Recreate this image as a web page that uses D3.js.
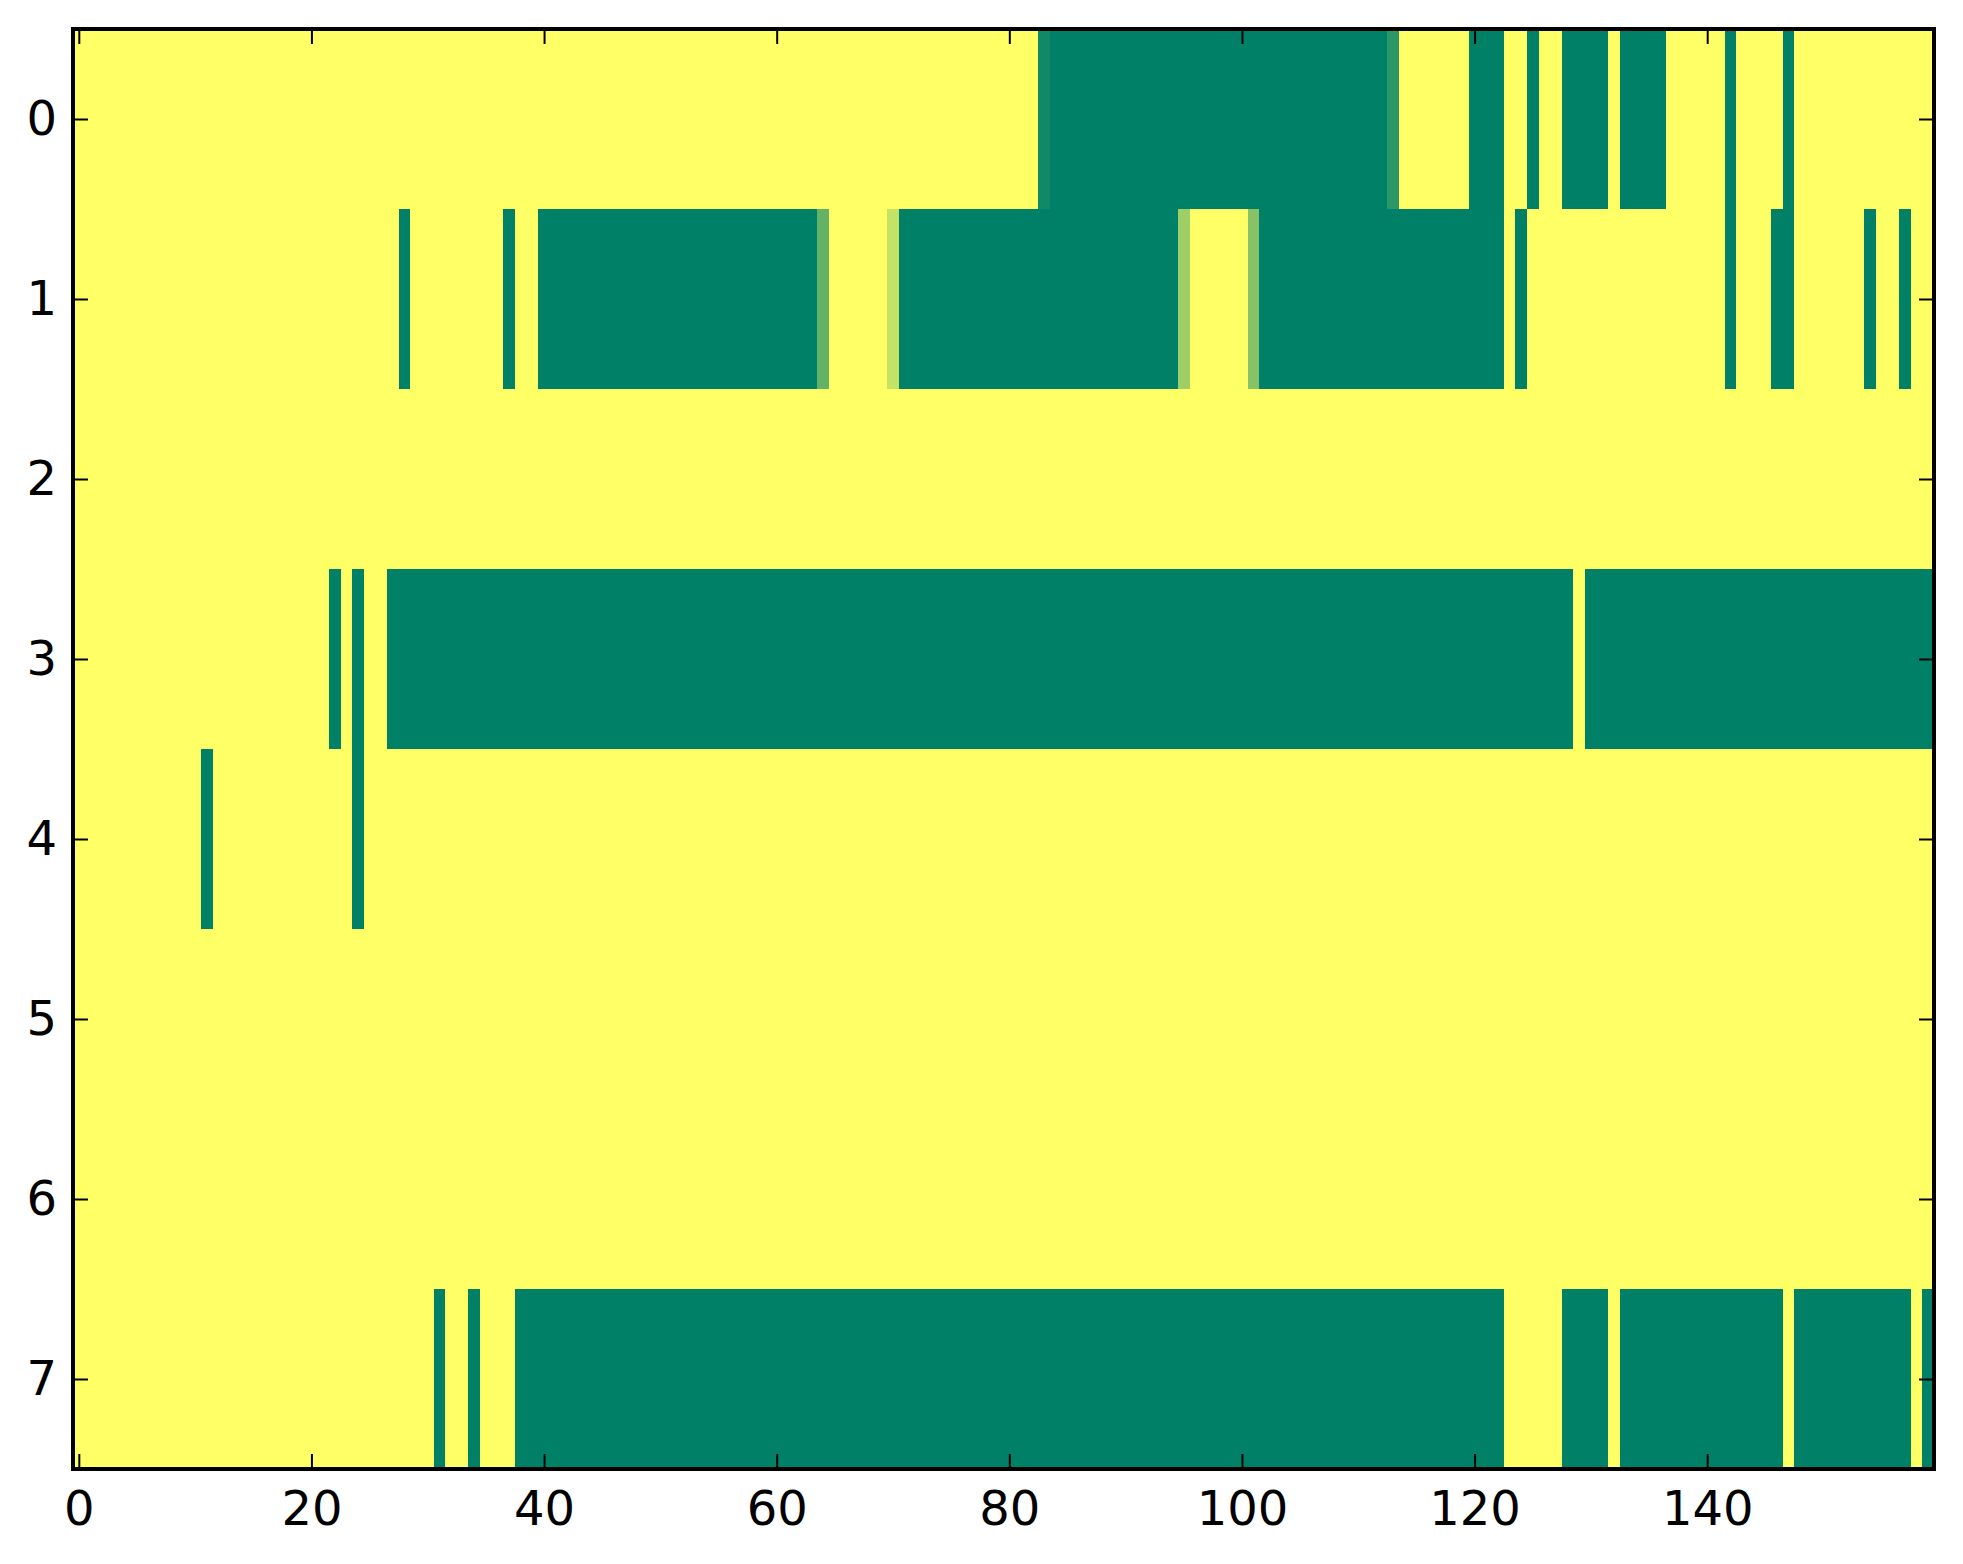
<!DOCTYPE html>
<html>
<head>
<meta charset="utf-8">
<script src="https://cdn.jsdelivr.net/npm/d3@7"></script>
<style>
    body { margin: 0; background: #ffffff; }
    text { font-family: "DejaVu Sans", sans-serif; }
</style>
</head>
<body>
<script>
//cell values per row, 0 = yellow, 1 = dark green (160 columns each)
var row0 = [
    0,0,0,0,0,0,0,0,0,0,0,0,0,0,0,0,0,0,0,0,
    0,0,0,0,0,0,0,0,0,0,0,0,0,0,0,0,0,0,0,0,
    0,0,0,0,0,0,0,0,0,0,0,0,0,0,0,0,0,0,0,0,
    0,0,0,0,0,0,0,0,0,0,0,0,0,0,0,0,0,0,0,0,
    0,0,0,0.93,1,1,1,1,1,1,1,1,1,1,1,1,1,1,1,1,
    1,1,1,1,1,1,1,1,1,1,1,1,1,0.83,0,0,0,0,0,0,
    1,1,1,0,0,1,0,0,1,1,1,1,0,1,1,1,1,0,0,0,
    0,0,1,0,0,0,0,1,0,0,0,0,0,0,0,0,0,0,0,0
];
var row1 = [
    0,0,0,0,0,0,0,0,0,0,0,0,0,0,0,0,0,0,0,0,
    0,0,0,0,0,0,0,0,1,0,0,0,0,0,0,0,0,1,0,0,
    1,1,1,1,1,1,1,1,1,1,1,1,1,1,1,1,1,1,1,1,
    1,1,1,1,0.61,0,0,0,0,0,0.23,1,1,1,1,1,1,1,1,1,
    1,1,1,1,1,1,1,1,1,1,1,1,1,1,1,0.38,0,0,0,0,
    0,0.47,1,1,1,1,1,1,1,1,1,1,1,1,1,1,1,1,1,1,
    1,1,1,0,1,0,0,0,0,0,0,0,0,0,0,0,0,0,0,0,
    0,0,1,0,0,0,1,1,0,0,0,0,0,0,1,0,0,1,0,0
];
var row2 = [
    0,0,0,0,0,0,0,0,0,0,0,0,0,0,0,0,0,0,0,0,
    0,0,0,0,0,0,0,0,0,0,0,0,0,0,0,0,0,0,0,0,
    0,0,0,0,0,0,0,0,0,0,0,0,0,0,0,0,0,0,0,0,
    0,0,0,0,0,0,0,0,0,0,0,0,0,0,0,0,0,0,0,0,
    0,0,0,0,0,0,0,0,0,0,0,0,0,0,0,0,0,0,0,0,
    0,0,0,0,0,0,0,0,0,0,0,0,0,0,0,0,0,0,0,0,
    0,0,0,0,0,0,0,0,0,0,0,0,0,0,0,0,0,0,0,0,
    0,0,0,0,0,0,0,0,0,0,0,0,0,0,0,0,0,0,0,0
];
var row3 = [
    0,0,0,0,0,0,0,0,0,0,0,0,0,0,0,0,0,0,0,0,
    0,0,1,0,1,0,0,1,1,1,1,1,1,1,1,1,1,1,1,1,
    1,1,1,1,1,1,1,1,1,1,1,1,1,1,1,1,1,1,1,1,
    1,1,1,1,1,1,1,1,1,1,1,1,1,1,1,1,1,1,1,1,
    1,1,1,1,1,1,1,1,1,1,1,1,1,1,1,1,1,1,1,1,
    1,1,1,1,1,1,1,1,1,1,1,1,1,1,1,1,1,1,1,1,
    1,1,1,1,1,1,1,1,1,0,1,1,1,1,1,1,1,1,1,1,
    1,1,1,1,1,1,1,1,1,1,1,1,1,1,1,1,1,1,1,1
];
var row4 = [
    0,0,0,0,0,0,0,0,0,0,0,1,0,0,0,0,0,0,0,0,
    0,0,0,0,1,0,0,0,0,0,0,0,0,0,0,0,0,0,0,0,
    0,0,0,0,0,0,0,0,0,0,0,0,0,0,0,0,0,0,0,0,
    0,0,0,0,0,0,0,0,0,0,0,0,0,0,0,0,0,0,0,0,
    0,0,0,0,0,0,0,0,0,0,0,0,0,0,0,0,0,0,0,0,
    0,0,0,0,0,0,0,0,0,0,0,0,0,0,0,0,0,0,0,0,
    0,0,0,0,0,0,0,0,0,0,0,0,0,0,0,0,0,0,0,0,
    0,0,0,0,0,0,0,0,0,0,0,0,0,0,0,0,0,0,0,0
];
var row5 = [
    0,0,0,0,0,0,0,0,0,0,0,0,0,0,0,0,0,0,0,0,
    0,0,0,0,0,0,0,0,0,0,0,0,0,0,0,0,0,0,0,0,
    0,0,0,0,0,0,0,0,0,0,0,0,0,0,0,0,0,0,0,0,
    0,0,0,0,0,0,0,0,0,0,0,0,0,0,0,0,0,0,0,0,
    0,0,0,0,0,0,0,0,0,0,0,0,0,0,0,0,0,0,0,0,
    0,0,0,0,0,0,0,0,0,0,0,0,0,0,0,0,0,0,0,0,
    0,0,0,0,0,0,0,0,0,0,0,0,0,0,0,0,0,0,0,0,
    0,0,0,0,0,0,0,0,0,0,0,0,0,0,0,0,0,0,0,0
];
var row6 = [
    0,0,0,0,0,0,0,0,0,0,0,0,0,0,0,0,0,0,0,0,
    0,0,0,0,0,0,0,0,0,0,0,0,0,0,0,0,0,0,0,0,
    0,0,0,0,0,0,0,0,0,0,0,0,0,0,0,0,0,0,0,0,
    0,0,0,0,0,0,0,0,0,0,0,0,0,0,0,0,0,0,0,0,
    0,0,0,0,0,0,0,0,0,0,0,0,0,0,0,0,0,0,0,0,
    0,0,0,0,0,0,0,0,0,0,0,0,0,0,0,0,0,0,0,0,
    0,0,0,0,0,0,0,0,0,0,0,0,0,0,0,0,0,0,0,0,
    0,0,0,0,0,0,0,0,0,0,0,0,0,0,0,0,0,0,0,0
];
var row7 = [
    0,0,0,0,0,0,0,0,0,0,0,0,0,0,0,0,0,0,0,0,
    0,0,0,0,0,0,0,0,0,0,0,1,0,0,1,0,0,0,1,1,
    1,1,1,1,1,1,1,1,1,1,1,1,1,1,1,1,1,1,1,1,
    1,1,1,1,1,1,1,1,1,1,1,1,1,1,1,1,1,1,1,1,
    1,1,1,1,1,1,1,1,1,1,1,1,1,1,1,1,1,1,1,1,
    1,1,1,1,1,1,1,1,1,1,1,1,1,1,1,1,1,1,1,1,
    1,1,1,0,0,0,0,0,1,1,1,1,0,1,1,1,1,1,1,1,
    1,1,1,1,1,1,1,0,1,1,1,1,1,1,1,1,1,1,0,1
];

//tick labels
var xTicks = [0, 20, 40, 60, 80, 100, 120, 140];
var yTicks = [0, 1, 2, 3, 4, 5, 6, 7];

window.onload = drawChart();

function drawChart(){
    var width = 1963,
        height = 1564;

    //plot frame (pixels)
    var left = 73, top = 29, right = 1934, bottom = 1469;

    var rows = [row0, row1, row2, row3, row4, row5, row6, row7];
    var nCols = row0.length;

    var svg = d3.select("body")
        .append("svg")
        .attr("width", width)
        .attr("height", height);

    //scales: cells centred on integer positions, like imshow
    var x = d3.scaleLinear()
        .domain([-0.5, nCols - 0.5])
        .range([left, right]);

    var y = d3.scaleLinear()
        .domain([-0.5, rows.length - 0.5])
        .range([top, bottom]);

    //summer_r colormap: yellow at 0, green at 1
    var color = d3.scaleLinear()
        .domain([0, 1])
        .range(["#ffff66", "#008066"]);

    //flatten the rows into cells
    var cells = [];
    rows.forEach(function(r, ri){
        r.forEach(function(v, ci){
            cells.push({row: ri, col: ci, value: v});
        });
    });

    svg.append("g")
        .attr("class", "cells")
        .selectAll("rect")
        .data(cells)
        .enter()
        .append("rect")
        .attr("x", function(d){ return x(d.col - 0.5); })
        .attr("y", function(d){ return y(d.row - 0.5); })
        .attr("width", function(d){ return x(d.col + 0.5) - x(d.col - 0.5); })
        .attr("height", function(d){ return y(d.row + 0.5) - y(d.row - 0.5); })
        .attr("fill", function(d){ return color(d.value); })
        .attr("shape-rendering", "crispEdges");

    //ticks point inward on all four sides
    var tickLen = 15;

    var xBottom = svg.append("g")
        .attr("transform", "translate(0," + bottom + ")")
        .call(d3.axisBottom(x).tickValues(xTicks).tickSize(-tickLen).tickPadding(22));
    var xTop = svg.append("g")
        .attr("transform", "translate(0," + top + ")")
        .call(d3.axisTop(x).tickValues(xTicks).tickSize(-tickLen).tickFormat(""));
    var yLeft = svg.append("g")
        .attr("transform", "translate(" + left + ",0)")
        .call(d3.axisLeft(y).tickValues(yTicks).tickSize(-tickLen).tickPadding(16));
    var yRight = svg.append("g")
        .attr("transform", "translate(" + right + ",0)")
        .call(d3.axisRight(y).tickValues(yTicks).tickSize(-tickLen).tickFormat(""));

    [xBottom, xTop, yLeft, yRight].forEach(function(g){
        g.select(".domain").remove();
        g.selectAll(".tick line")
            .attr("stroke", "#000")
            .attr("stroke-width", 2);
        g.selectAll(".tick text")
            .attr("fill", "#000")
            .style("font-family", "'DejaVu Sans', sans-serif")
            .style("font-size", "48px");
    });

    //frame
    svg.append("rect")
        .attr("x", left)
        .attr("y", top)
        .attr("width", right - left)
        .attr("height", bottom - top)
        .attr("fill", "none")
        .attr("stroke", "#000")
        .attr("stroke-width", 4);
}
</script>
</body>
</html>
